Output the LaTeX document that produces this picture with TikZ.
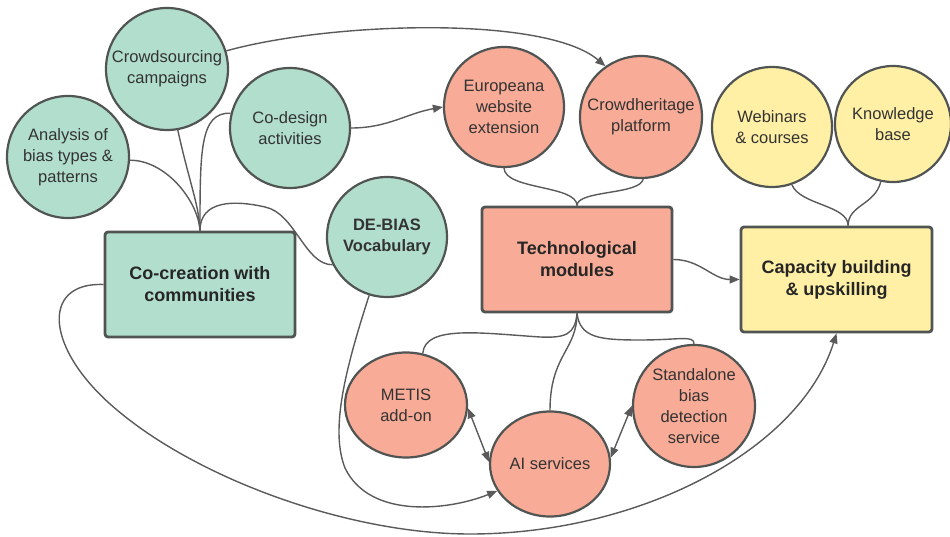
\documentclass[tikz,border=0pt]{standalone}
\usepackage{fontspec}
\setmainfont{Liberation Sans}
\usetikzlibrary{arrows.meta,calc,shapes.geometric}
\definecolor{gfill}{HTML}{B2DECD}
\definecolor{rfill}{HTML}{F8AB96}
\definecolor{yfill}{HTML}{FFF0A5}
\definecolor{bord}{HTML}{505553}
\definecolor{lnc}{HTML}{5A5A5A}
\definecolor{txt}{HTML}{333333}
\begin{document}
\begin{tikzpicture}[x=1pt,y=-1pt,
  circ/.style={circle,draw=bord,line width=2.2pt,inner sep=0pt,align=center,text=txt,
    font=\fontsize{16.5}{21}\selectfont},
  ell/.style={ellipse,draw=bord,line width=2.2pt,inner sep=0pt,align=center,text=txt,
    font=\fontsize{16.5}{21}\selectfont},
  boxn/.style={rectangle,rounded corners=3pt,draw=bord,line width=2.8pt,align=center,
    text=black!85,font=\bfseries\fontsize{18}{22}\selectfont,minimum width=190pt,minimum height=105pt},
  gr/.style={fill=gfill},
  rd/.style={fill=rfill},
  yl/.style={fill=yfill},
  conn/.style={draw=lnc,line width=1.4pt},
  arr/.style={conn,-{Triangle[length=10pt,width=8pt]}},
  darr/.style={conn,{Triangle[length=10pt,width=8pt]}-{Triangle[length=10pt,width=8pt]}}
]
\useasboundingbox (0,0) rectangle (950,537);

% green
\node[circ,gr,minimum size=122pt] (ana) at (68,157) {Analysis of\\bias types \&\\patterns};
\node[circ,gr,minimum size=122pt] (crowd) at (167,69) {Crowdsourcing\\campaigns};
\node[circ,gr,minimum size=120pt] (codes) at (290,128) {Co-design\\activities};
\node[circ,gr,minimum size=120pt,font=\bfseries\fontsize{16.5}{21}\selectfont] (vocab) at (387,237) {DE-BIAS\\Vocabulary};
\node[boxn,gr] (cocr) at (200,284.5) {Co-creation with\\communities};

% red
\node[circ,rd,minimum size=120pt] (euro) at (504,107) {Europeana\\website\\extension};
\node[circ,rd,minimum size=122pt] (crowdh) at (641,117) {Crowdheritage\\platform};
\node[boxn,rd] (tech) at (577,259.5) {Technological\\modules};
\node[ell,rd,minimum width=122pt,minimum height=105pt] (metis) at (406,405) {METIS\\add-on};
\node[ell,rd,minimum width=120pt,minimum height=105pt] (ai) at (550,464) {AI services};
\node[circ,rd,minimum size=122pt] (stand) at (694,406) {Standalone\\bias\\detection\\service};

% yellow
\node[circ,yl,minimum size=120pt] (web) at (772,127) {Webinars\\\& courses};
\node[circ,yl,minimum size=116pt] (know) at (893,124) {Knowledge\\base};
\node[boxn,yl,minimum width=191pt] (cap) at (836.5,279.5) {Capacity building\\\& upskilling};

\coordinate (capm) at ($(cap.north west)!0.56!(cap.north east)$);

% connectors
\draw[arr] (crowd.17) .. controls (330,22) and (545,15) .. (crowdh.125);
\draw[arr] (codes.east) to[out=0,in=190] (euro.west);

\draw[conn] (ana.-3) .. controls (165,160) and (198,200) .. (cocr.north);
\draw[conn] (crowd.-80) .. controls (190,185) and (199,205) .. (cocr.north);
\draw[conn] (codes.166) .. controls (200,112) and (200,150) .. (cocr.north);
\draw[conn] (cocr.north) .. controls (200,200) and (235,200) .. (265,207)
   .. controls (295,213) and (305,265) .. (vocab.207);

\draw[arr] (cocr.west) .. controls (40,282) and (45,350) .. (117,410)
   .. controls (200,480) and (350,534) .. (470,534)
   .. controls (640,534) and (800,450) .. (cap.south);

\draw[arr] (tech.east) to[out=0,in=180] (cap.west);

\draw[conn] (euro.south) .. controls (505,190) and (577,185) .. (tech.north);
\draw[conn] (crowdh.-88) .. controls (640,195) and (577,190) .. (tech.north);

\draw[conn] (web.-71) .. controls (800,205) and (848,205) .. (capm);
\draw[conn] (know.-102) .. controls (875,205) and (848,205) .. (capm);

\draw[conn] (tech.south) .. controls (575,335) and (565,338) .. (540,337)
   .. controls (480,333) and (425,325) .. (metis.72);
\draw[conn] (tech.south) .. controls (577,350) and (550,355) .. (ai.north);
\draw[conn] (tech.south) .. controls (580,338) and (600,340) .. (640,340)
   .. controls (680,340) and (694,335) .. (stand.north);

\draw[darr] (metis.-3) -- (ai.178);
\draw[darr] (ai.6) -- (stand.180);

\draw[arr] (vocab.-107) .. controls (345,370) and (330,430) .. (345,468)
   .. controls (370,520) and (450,510) .. (ai.207);
\end{tikzpicture}
\end{document}
